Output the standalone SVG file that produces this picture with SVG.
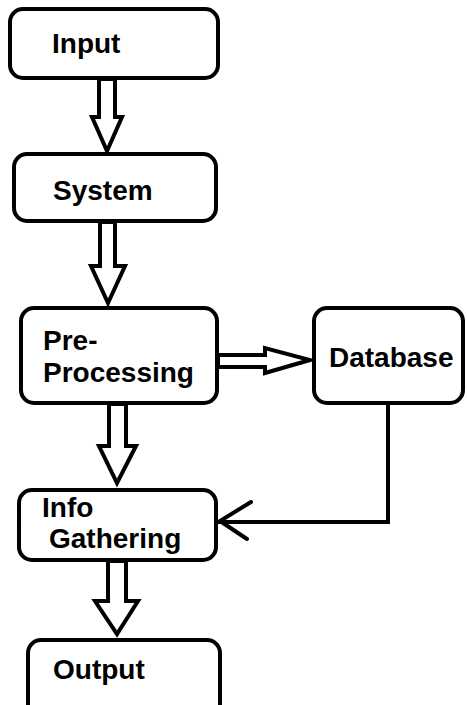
<svg xmlns="http://www.w3.org/2000/svg" width="467" height="705" viewBox="0 0 467 705">
<style>
.box{fill:#fff;stroke:#000;stroke-width:4}
.t{font-family:"Liberation Sans",Arial,sans-serif;font-weight:bold;font-size:28px;fill:#000}
.arr{fill:#fff;stroke:#000;stroke-width:4;stroke-linejoin:miter}
.ln{fill:none;stroke:#000;stroke-width:4;stroke-linecap:round}
</style>
<rect width="467" height="705" fill="#fff"/>
<g id="connectors">
<polygon class="arr" points="99,79 115,79 115,117 122,117 107,151 92,117 99,117"/>
<polygon class="arr" points="100,222 115,222 115,266 125,266 108,303 91,266 100,266"/>
<polygon class="arr" points="109,404 126,404 126,446 136,446 117,483 99,446 109,446"/>
<polygon class="arr" points="108,561 126,561 126,601 138,601 117,634 95,601 108,601"/>
<polygon class="arr" points="218,355 265,355 265,348 310,360 265,373 265,367 218,367"/>
<polyline class="ln" points="388,404 388,522 218,522"/>
<polyline class="ln" points="251,502 220,521 247,539"/>
</g>
<g id="input"><rect class="box" x="10" y="9" width="208" height="69" rx="13"/><text class="t" x="52" y="53">Input</text></g>
<g id="system"><rect class="box" x="14" y="154" width="202" height="67" rx="13"/><text class="t" x="53" y="200">System</text></g>
<g id="preprocessing"><rect class="box" x="21" y="308" width="196" height="95" rx="13"/><text class="t" x="43" y="350">Pre-</text><text class="t" x="43" y="382">Processing</text></g>
<g id="database"><rect class="box" x="314" y="308" width="149" height="95" rx="13"/><text class="t" x="329" y="367">Database</text></g>
<g id="infogathering"><rect class="box" x="19" y="490" width="197" height="70" rx="13"/><text class="t" x="42" y="517">Info</text><text class="t" x="49" y="548">Gathering</text></g>
<g id="output"><rect class="box" x="28" y="640" width="192" height="80" rx="13"/><text class="t" x="53" y="679">Output</text></g>
</svg>
